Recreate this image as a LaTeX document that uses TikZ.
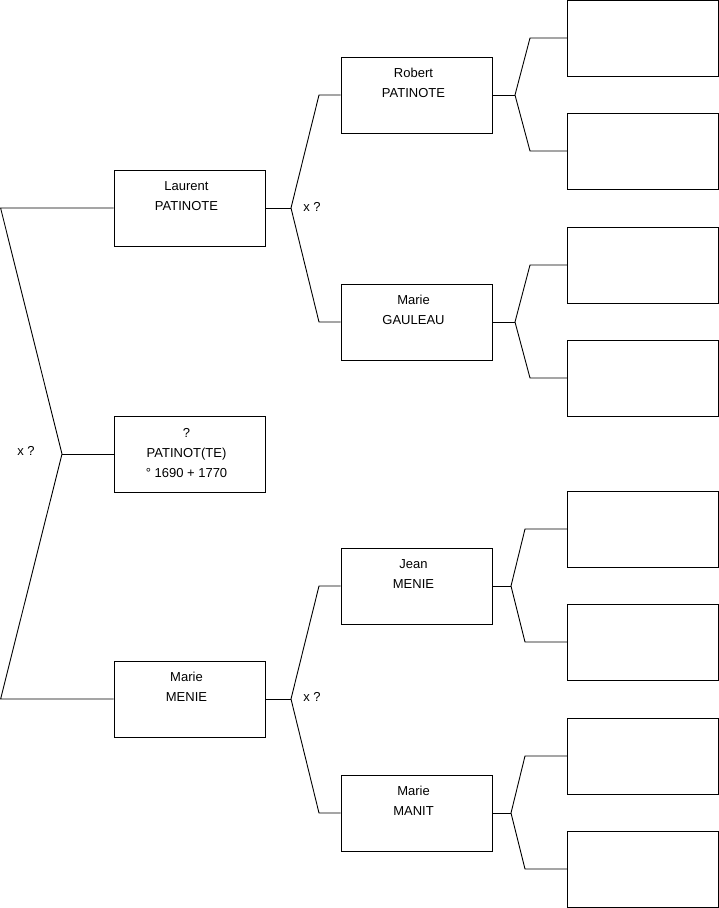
\documentclass[tikz,border=0pt]{standalone}
\usepackage{fontspec}
\setmainfont{Liberation Sans}
\begin{document}
\begin{tikzpicture}[x=1pt,y=-1pt,
  person/.style={draw=black, line width=0.9pt, fill=white, minimum width=151pt, minimum height=76pt, inner sep=0pt},
  txt/.style={align=center, inner sep=0pt, font=\fontsize{13}{20}\selectfont},
  link/.style={draw=black, line width=0.9pt, line join=miter},
  lab/.style={font=\fontsize{13}{14}\selectfont, inner sep=0pt}]
\useasboundingbox (0,0) rectangle (719,908);
% persons
\node[person] (L) at (189.5,208) {};
\node[person] (Q) at (189.5,454) {};
\node[person] (M) at (189.5,699) {};
\node[person] (R) at (416.5,95) {};
\node[person] (G) at (416.5,322) {};
\node[person] (J) at (416.5,586) {};
\node[person] (N) at (416.5,813) {};
\node[txt] (Lt) at ([xshift=-3pt,yshift=12pt]L.center) {Laurent\\PATINOTE};
\node[txt] (Qt) at ([xshift=-3pt,yshift=1pt]Q.center) {?\\PATINOT(TE)\\° 1690 + 1770};
\node[txt] (Mt) at ([xshift=-3pt,yshift=12pt]M.center) {Marie\\MENIE};
\node[txt] (Rt) at ([xshift=-3pt,yshift=12pt]R.center) {Robert\\PATINOTE};
\node[txt] (Gt) at ([xshift=-3pt,yshift=12pt]G.center) {Marie\\GAULEAU};
\node[txt] (Jt) at ([xshift=-3pt,yshift=12pt]J.center) {Jean\\MENIE};
\node[txt] (Nt) at ([xshift=-3pt,yshift=12pt]N.center) {Marie\\MANIT};
\node[person] (E1) at (643,38) {};
\node[person] (E2) at (643,151) {};
\node[person] (E3) at (643,265) {};
\node[person] (E4) at (643,378) {};
\node[person] (E5) at (643,529) {};
\node[person] (E6) at (643,642) {};
\node[person] (E7) at (643,756) {};
\node[person] (E8) at (643,869) {};
% labels
\node[lab] (x1) at (26,451) {x ?};
\node[lab] (x2) at (312,207) {x ?};
\node[lab] (x3) at (312,697) {x ?};
% left fork
\coordinate (a) at (0.6,208);
\coordinate (b) at (62,454);
\coordinate (c) at (0.6,699);
\draw[link] (L.west) -- (a) -- (b) -- (c) -- (M.west);
\draw[link] (b) -- (Q.west);
% Laurent fork
\coordinate (p1) at (291,208);
\coordinate (p1u) at (319,95);
\coordinate (p1d) at (319,322);
\draw[link] (L.east) -- (p1);
\draw[link] (p1) -- (p1u) -- (R.west);
\draw[link] (p1) -- (p1d) -- (G.west);
% Marie MENIE fork
\coordinate (m) at (291,699);
\coordinate (mu) at (319,586);
\coordinate (md) at (319,813);
\draw[link] (M.east) -- (m);
\draw[link] (m) -- (mu) -- (J.west);
\draw[link] (m) -- (md) -- (N.west);
% Robert fork
\coordinate (r) at (515,95);
\coordinate (ru) at (530,38);
\coordinate (rd) at (530,151);
\draw[link] (R.east) -- (r);
\draw[link] (r) -- (ru) -- (E1.west);
\draw[link] (r) -- (rd) -- (E2.west);
% Gauleau fork
\coordinate (g) at (515,322);
\coordinate (gu) at (530,265);
\coordinate (gd) at (530,378);
\draw[link] (G.east) -- (g);
\draw[link] (g) -- (gu) -- (E3.west);
\draw[link] (g) -- (gd) -- (E4.west);
% Jean fork
\coordinate (j) at (511,586);
\coordinate (ju) at (525,529);
\coordinate (jd) at (525,642);
\draw[link] (J.east) -- (j);
\draw[link] (j) -- (ju) -- (E5.west);
\draw[link] (j) -- (jd) -- (E6.west);
% Manit fork
\coordinate (n) at (511,813);
\coordinate (nu) at (525,756);
\coordinate (nd) at (525,869);
\draw[link] (N.east) -- (n);
\draw[link] (n) -- (nu) -- (E7.west);
\draw[link] (n) -- (nd) -- (E8.west);
\end{tikzpicture}
\end{document}
